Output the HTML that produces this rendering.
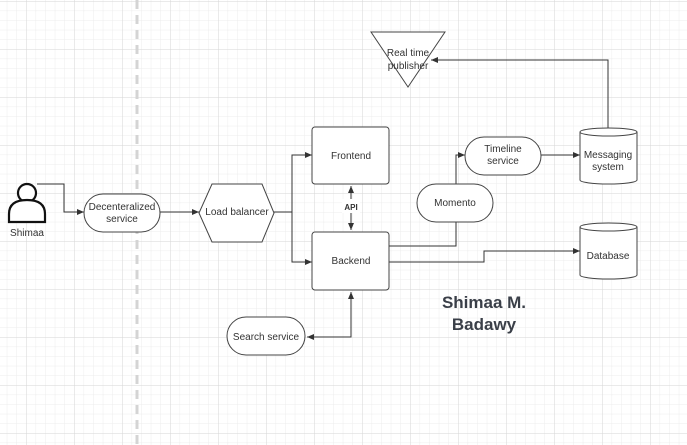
<!DOCTYPE html>
<html><head><meta charset="utf-8"><style>
html,body{margin:0;padding:0;background:#fff}
svg{display:block;font-family:"Liberation Sans",sans-serif}
</style></head><body>
<svg width="687" height="445" viewBox="0 0 687 445" xmlns="http://www.w3.org/2000/svg">
<defs>
<pattern id="minor" x="26" y="1" width="9.6" height="9.6" patternUnits="userSpaceOnUse">
<path d="M0 0H9.6M0 0V9.6" stroke="#ececec" stroke-width="1" fill="none"/>
</pattern>
<pattern id="major" x="26" y="1" width="48" height="48" patternUnits="userSpaceOnUse">
<path d="M0 0H48M0 0V48" stroke="#d6d6d6" stroke-width="1" fill="none"/>
</pattern>
<marker id="a" markerWidth="8" markerHeight="8" refX="7" refY="4" orient="auto" markerUnits="userSpaceOnUse">
<path d="M0 1L7 4L0 7Z" fill="#333"/>
</marker>
</defs>
<rect width="687" height="445" fill="url(#minor)"/>
<rect width="687" height="445" fill="url(#major)"/>
<line x1="137" y1="0" x2="137" y2="445" stroke="#d4d4d4" stroke-width="3" stroke-dasharray="9,6"/>

<g fill="none" stroke="#333" stroke-width="1">
<!-- person -->
<circle cx="27" cy="193" r="9" fill="#fff" stroke="#111" stroke-width="2.2"/>
<path d="M9 222V214Q9 200 27 200Q45 200 45 214V222Z" fill="#fff" stroke="#111" stroke-width="2.2"/>
<path d="M37 184H64V212H84" marker-end="url(#a)"/>
<path d="M160 212H199" marker-end="url(#a)"/>
<path d="M274 212H292V155H312" marker-end="url(#a)"/>
<path d="M292 212V262H312" marker-end="url(#a)"/>
<path d="M351 194V230" marker-end="url(#a)"/>
<path d="M351 216V186" marker-end="url(#a)"/>
<path d="M351 310V292" marker-end="url(#a)"/>
<path d="M351 300V337H307" marker-end="url(#a)"/>
<path d="M389 246H456V155H465" marker-end="url(#a)"/>
<path d="M541 155H580" marker-end="url(#a)"/>
<path d="M389 262H484V251H580" marker-end="url(#a)"/>
<path d="M608 128V60H431" marker-end="url(#a)"/>
</g>
<g fill="#fff" stroke="#444" stroke-width="1">
<rect x="84" y="194" width="76" height="38" rx="19"/>
<path d="M212 184H262L274 213L262 242H212L199 213Z"/>
<rect x="312" y="127" width="77" height="57" rx="3"/>
<rect x="312" y="232" width="77" height="58" rx="3"/>
<rect x="227" y="317" width="78" height="38" rx="19"/>
<rect x="417" y="184" width="76" height="38" rx="19"/>
<rect x="465" y="137" width="76" height="38" rx="19"/>
<path d="M580 132V180A28.5 4 0 0 0 637 180V132A28.5 4 0 0 0 580 132A28.5 4 0 0 0 637 132"/>
<path d="M580 227V275A28.5 4 0 0 0 637 275V227A28.5 4 0 0 0 580 227A28.5 4 0 0 0 637 227"/>
<path d="M371 32H445L408 87Z"/>
</g>
<rect x="342" y="199" width="18" height="14" fill="#fff"/>
<g font-size="10" fill="#333" text-anchor="middle">
<text x="27" y="236">Shimaa</text>
<text x="122" y="210">Decenteralized</text>
<text x="122" y="222">service</text>
<text x="237" y="215">Load balancer</text>
<text x="351" y="159">Frontend</text>
<text x="351" y="264">Backend</text>
<text x="351" y="210" font-size="8" font-weight="bold">API</text>
<text x="266" y="340">Search service</text>
<text x="455" y="206">Momento</text>
<text x="503" y="152">Timeline</text>
<text x="503" y="164">service</text>
<text x="608" y="158">Messaging</text>
<text x="608" y="170">system</text>
<text x="608" y="259">Database</text>
<text x="408" y="56">Real time</text>
<text x="408" y="69">publisher</text>
<text x="484" y="308" font-size="17" font-weight="bold" fill="#3a3f48">Shimaa M.</text>
<text x="484" y="330" font-size="17" font-weight="bold" fill="#3a3f48">Badawy</text>
</g>
</svg>
</body></html>
